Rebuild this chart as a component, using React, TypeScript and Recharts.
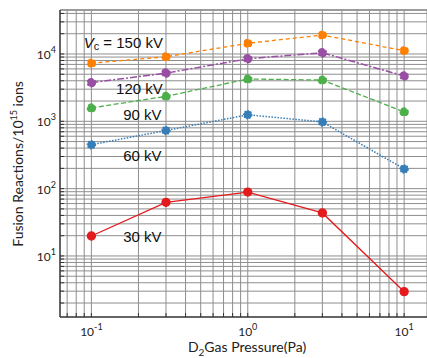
import {
  CartesianGrid,
  Line,
  LineChart,
  ReferenceDot,
  ReferenceLine,
  XAxis,
  YAxis
} from "recharts";

const pressures = [0.1, 0.3, 1, 3, 10];
const kv150 = [7300, 9100, 14400, 19100, 11200];
const kv120 = [3750, 5200, 8500, 10400, 4700];
const kv90 = [1580, 2350, 4250, 4100, 1380];
const kv60 = [450, 730, 1250, 980, 196];
const kv30 = [19.8, 62.6, 89, 43.6, 2.95];

const xDomain = [0.063, 14];
const yDomain = [1.24, 45000];
const mantissas = [1, 2, 3, 4, 5, 6, 7, 8, 9];
const xTicks = [0.01, 0.1, 1, 10]
  .flatMap((d) => mantissas.map((m) => m * d))
  .filter((v) => v >= xDomain[0] && v <= 10.001);
const yTicks = [1, 10, 100, 1000, 10000]
  .flatMap((d) => mantissas.map((m) => m * d))
  .filter((v) => v >= yDomain[0] && v <= yDomain[1]);

const data = pressures.map((p, i) => ({
  p,
  kv150: kv150[i],
  kv120: kv120[i],
  kv90: kv90[i],
  kv60: kv60[i],
  kv30: kv30[i]
}));

// annotation positions in data units
const labels = [
  { x: 0.16, y: 14500, text: "150 kV", vc: true },
  { x: 0.203, y: 3020, text: "120 kV" },
  { x: 0.212, y: 1240, text: "90 kV" },
  { x: 0.212, y: 309, text: "60 kV" },
  { x: 0.212, y: 19.1, text: "30 kV" }
];

const grid = "#8e8e8e";
const tickFont = "Lato, 'Liberation Sans', sans-serif";

const exponent = (v: number) => {
  const e = Math.log10(v);
  return Math.abs(e - Math.round(e)) < 1e-6 ? Math.round(e) : null;
};

const XTick = (props: any) => {
  const { x, y, payload } = props;
  const e = exponent(payload.value);
  return (
    <g>
      <line x1={x} x2={x} y1={y} y2={y - 4} stroke="#333" strokeWidth={1} />
      {e !== null && (
        <text x={x} y={y + 19} textAnchor="middle" fontSize={12} fill="#222" fontFamily={tickFont}>
          <tspan>10</tspan>
          <tspan dy={-6} fontSize={9}>{e}</tspan>
        </text>
      )}
    </g>
  );
};

const YTick = (props: any) => {
  const { x, y, payload } = props;
  const e = exponent(payload.value);
  return (
    <g>
      <line x1={x} x2={x + 4} y1={y} y2={y} stroke="#333" strokeWidth={1} />
      {e !== null && (
        <text x={x - 4} y={y + 5} textAnchor="end" fontSize={12} fill="#222" fontFamily={tickFont}>
          <tspan>10</tspan>
          <tspan dy={-6} fontSize={9}>{e}</tspan>
        </text>
      )}
    </g>
  );
};

const LabelShape = (l: any) => (props: any) => {
  const { cx, cy } = props;
  return (
    <text
      x={cx}
      y={cy + 5}
      textAnchor="middle"
      fontSize={15}
      fill="#111"
      fontFamily="'Liberation Sans', Arial, sans-serif"
    >
      {l.vc && (
        <>
          <tspan fontStyle="italic">V</tspan>
          <tspan fontSize={11} dy={2}>c</tspan>
          <tspan dy={-2}> = </tspan>
        </>
      )}
      <tspan>{l.text}</tspan>
    </text>
  );
};

export default function App() {
  return (
    <div style={{ position: "absolute", left: 0, top: 0, width: 427, height: 358, background: "#fff" }}>
      <LineChart
        width={427}
        height={358}
        data={data}
        margin={{ top: 10, right: 0, left: 0, bottom: 0 }}
      >
        <CartesianGrid stroke={grid} strokeWidth={1} />
        <XAxis
          dataKey="p"
          type="number"
          scale="log"
          domain={xDomain}
          allowDataOverflow
          ticks={xTicks}
          interval={0}
          tick={<XTick />}
          tickLine={false}
          tickSize={0}
          tickMargin={0}
          height={41}
          axisLine={{ stroke: "#444", strokeWidth: 1.5 }}
        />
        <YAxis
          type="number"
          scale="log"
          domain={yDomain}
          allowDataOverflow
          ticks={yTicks}
          interval={0}
          tick={<YTick />}
          tickLine={false}
          tickSize={0}
          tickMargin={0}
          width={60}
          axisLine={{ stroke: "#444", strokeWidth: 1.5 }}
        />
        <ReferenceLine y={yDomain[1]} stroke={grid} strokeWidth={1.5} />
        <Line dataKey="kv150" stroke="#ff7f00" strokeWidth={1.3} strokeDasharray="4 3"
          dot={{ r: 4, fill: "#ff7f00", stroke: "#ff7f00" }} isAnimationActive={false} />
        <Line dataKey="kv120" stroke="#984ea3" strokeWidth={1.5} strokeDasharray="7 2 2 2"
          dot={{ r: 4, fill: "#984ea3", stroke: "#984ea3" }} isAnimationActive={false} />
        <Line dataKey="kv90" stroke="#4daf4a" strokeWidth={1.3} strokeDasharray="5 2.5"
          dot={{ r: 4, fill: "#4daf4a", stroke: "#4daf4a" }} isAnimationActive={false} />
        <Line dataKey="kv60" stroke="#377eb8" strokeWidth={1.5} strokeDasharray="1.5 1.5"
          dot={{ r: 4, fill: "#377eb8", stroke: "#377eb8" }} isAnimationActive={false} />
        <Line dataKey="kv30" stroke="#e41a1c" strokeWidth={1.3}
          dot={{ r: 4, fill: "#e41a1c", stroke: "#e41a1c" }} isAnimationActive={false} />
        {labels.map((l) => (
          <ReferenceDot key={l.text} x={l.x} y={l.y} r={0} shape={LabelShape(l)} />
        ))}
      </LineChart>
      <div
        style={{
          position: "absolute",
          left: 17,
          top: 164,
          transform: "translate(-50%, -50%) rotate(-90deg)",
          whiteSpace: "nowrap",
          fontFamily: tickFont,
          fontSize: 14,
          color: "#222"
        }}
      >
        Fusion Reactions/10<sup style={{ fontSize: 9 }}>15</sup> ions
      </div>
      <div
        style={{
          position: "absolute",
          left: 247,
          top: 348,
          transform: "translate(-50%, -50%)",
          whiteSpace: "nowrap",
          fontFamily: tickFont,
          fontSize: 14,
          color: "#222"
        }}
      >
        D<sub style={{ fontSize: 10 }}>2</sub>Gas Pressure(Pa)
      </div>
    </div>
  );
}
